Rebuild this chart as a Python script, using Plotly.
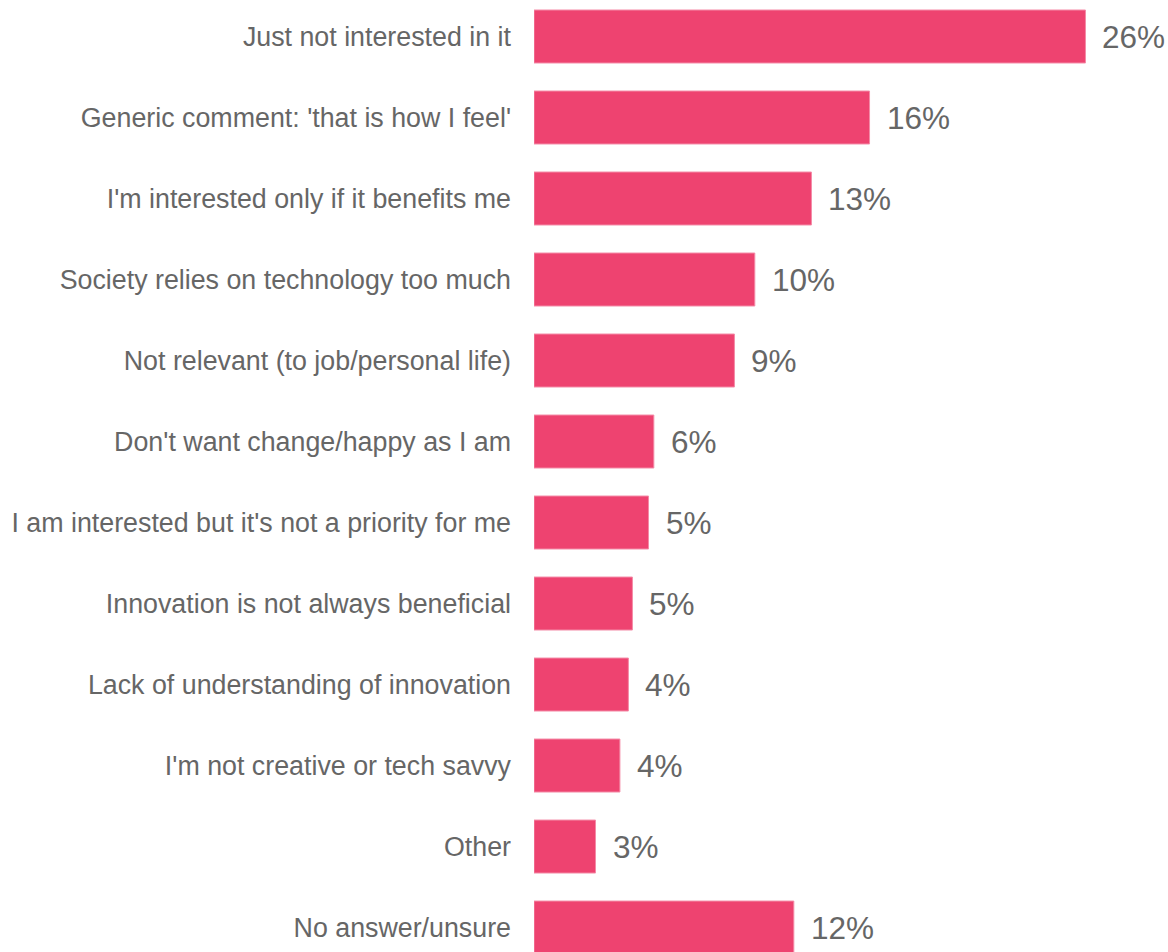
import plotly.graph_objects as go

# Reasons given for not being interested in innovation (share of respondents, %)
categories = [
    "Just not interested in it",
    "Generic comment: 'that is how I feel'",
    "I'm interested only if it benefits me",
    "Society relies on technology too much",
    "Not relevant (to job/personal life)",
    "Don't want change/happy as I am",
    "I am interested but it's not a priority for me",
    "Innovation is not always beneficial",
    "Lack of understanding of innovation",
    "I'm not creative or tech savvy",
    "Other",
    "No answer/unsure",
]
shares = [26.0, 15.82, 13.08, 10.41, 9.45, 5.65, 5.40, 4.64, 4.45, 4.05, 2.90, 12.25]

BAR_COLOR = "#EE4370"
TEXT_COLOR = "#666666"
FONT = "Liberation Sans, Arial, sans-serif"

fig = go.Figure(
    go.Bar(
        x=shares,
        y=categories,
        orientation="h",
        marker=dict(color=BAR_COLOR, line=dict(color="#F48BA7", width=1)),
        hoverinfo="skip",
    )
)

# Percentage labels to the right of each bar
for cat, val in zip(categories, shares):
    fig.add_annotation(
        x=val,
        y=cat,
        text=f"{val:.0f}%",
        showarrow=False,
        xanchor="left",
        yanchor="middle",
        xshift=15,
        font=dict(family=FONT, size=31.5, color=TEXT_COLOR),
    )

fig.update_layout(
    width=1168,
    height=952,
    margin=dict(l=534, r=0, t=0, b=0),
    paper_bgcolor="white",
    plot_bgcolor="white",
    bargap=0.346,
    showlegend=False,
    font=dict(family=FONT, color=TEXT_COLOR),
)

fig.update_xaxes(
    range=[0, 634 / 21.21],
    visible=False,
    showgrid=False,
    zeroline=False,
)

fig.update_yaxes(
    type="category",
    categoryorder="array",
    categoryarray=categories,
    range=[11.302, -0.4506],
    showgrid=False,
    zeroline=False,
    showline=False,
    ticks="",
    automargin=False,
    ticklabelstandoff=22,
    tickfont=dict(family=FONT, size=26.8, color=TEXT_COLOR),
)

fig.write_html("out.html")
